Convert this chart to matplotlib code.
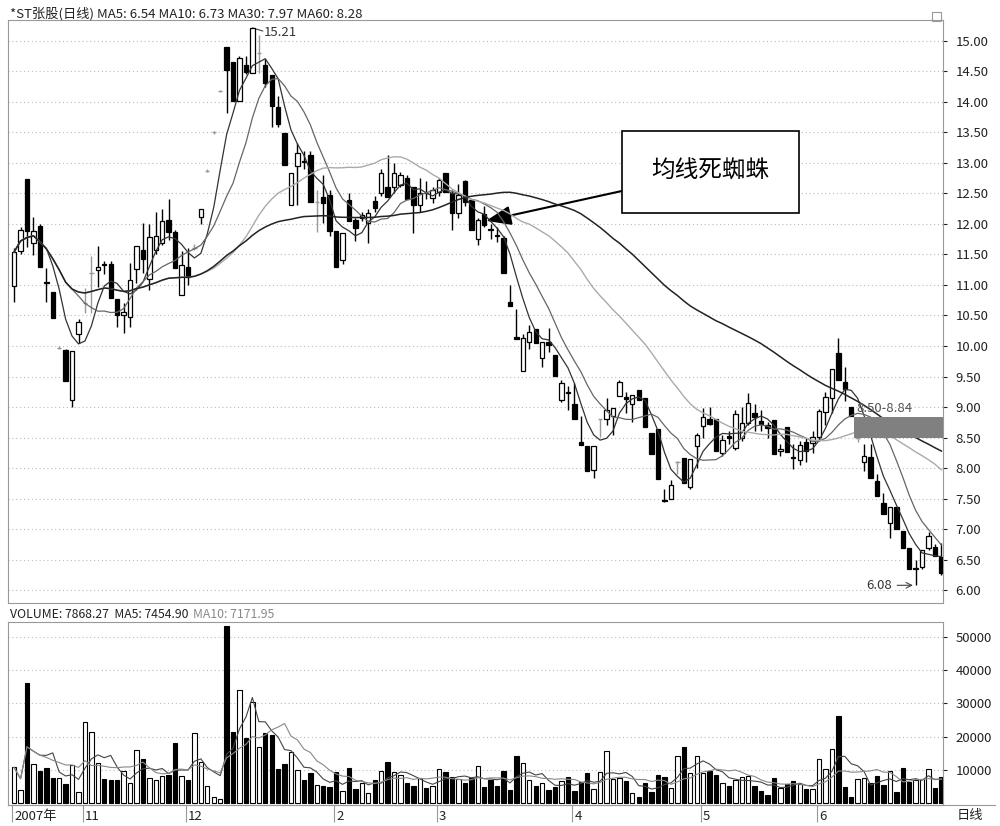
import matplotlib
matplotlib.use("Agg")
import matplotlib.pyplot as plt
import numpy as np
import pandas as pd
from matplotlib.patches import Rectangle

plt.rcParams['font.family'] = ['Noto Sans CJK SC', 'DejaVu Sans']

# day-by-day OHLC
opens = [10.98,11.55,12.74,11.69,11.97,11.05,10.89,9.97,9.93,9.11,10.20,10.70,11.20,11.25,11.34,11.34,10.77,10.51,10.48,11.26,
         11.57,11.10,11.57,11.69,12.07,11.87,10.84,11.30,11.60,12.11,12.87,13.50,14.18,14.90,14.66,14.02,14.61,14.48,14.80,14.61,
         14.44,13.92,13.49,12.31,12.95,13.03,13.13,12.36,12.44,12.48,11.89,11.41,12.39,12.07,12.10,12.02,12.38,12.51,12.61,12.61,
         12.64,12.75,12.61,12.31,12.51,12.43,12.52,12.84,12.51,12.18,12.70,12.39,11.75,12.16,11.92,11.82,11.77,10.72,10.15,9.59,
         10.07,10.28,9.80,10.07,9.85,9.11,9.25,9.05,8.43,8.36,7.97,8.80,8.80,8.85,9.18,9.16,9.05,9.28,9.15,8.57,
         8.64,7.48,7.49,8.10,8.16,7.69,8.36,8.69,8.80,8.80,8.25,8.53,8.33,8.49,8.74,8.90,8.77,8.70,8.79,8.28,
         8.67,8.18,8.13,8.43,8.41,8.51,8.92,9.15,9.89,9.41,9.00,8.50,8.10,8.18,7.79,7.43,7.10,7.36,6.97,6.69,
         6.34,6.38,6.69,6.70,6.54]
highs = [11.60,11.95,12.74,12.11,12.00,11.28,10.89,10.00,9.95,9.92,10.45,10.95,11.48,11.64,11.40,11.40,10.77,10.70,11.36,11.64,
         12.02,12.00,12.20,12.25,12.41,11.90,11.55,11.60,11.67,12.25,12.90,13.52,14.20,14.90,14.66,14.75,14.75,15.21,15.10,14.70,
         14.44,14.10,13.49,12.84,13.33,13.20,13.20,12.56,12.80,12.56,11.89,11.85,12.50,12.10,12.20,12.25,12.45,12.90,13.13,13.00,
         12.85,12.80,12.61,12.75,12.70,12.60,12.75,12.84,12.55,12.66,12.72,12.40,12.10,12.30,12.00,11.95,11.80,11.00,10.60,10.20,
         10.35,10.28,10.07,10.30,9.85,9.45,9.35,9.40,8.85,8.36,8.36,8.80,9.15,8.98,9.45,9.25,9.20,9.28,9.15,8.57,
         8.64,7.65,7.80,8.12,8.16,8.15,8.58,8.98,9.00,8.80,8.55,8.60,8.95,9.00,9.23,9.05,8.95,8.75,8.79,8.40,
         8.67,8.40,8.45,8.50,8.60,8.96,9.25,9.60,10.13,9.65,9.00,8.51,8.40,8.40,7.90,7.60,7.36,7.36,6.97,6.69,
         6.50,6.66,6.95,6.75,6.78]
lows = [10.72,11.50,11.62,11.49,11.30,10.72,10.46,9.95,9.43,9.00,10.05,10.54,10.54,10.97,11.18,10.79,10.31,10.21,10.31,11.03,
        11.20,10.92,11.50,11.65,11.74,11.28,10.84,11.00,11.57,12.00,12.85,13.48,14.16,13.82,14.02,14.02,14.45,14.48,14.48,14.25,
        13.59,13.59,12.97,12.31,12.31,12.90,12.36,11.87,12.02,11.80,11.30,11.35,12.05,11.72,12.05,11.68,12.20,12.45,12.44,12.50,
        12.60,12.41,11.85,12.20,12.40,12.35,12.45,12.52,11.90,12.10,12.30,11.90,11.65,11.95,11.75,11.70,11.20,10.66,10.11,9.59,
        9.95,10.05,9.65,9.90,9.51,9.08,8.95,8.80,8.38,7.95,7.84,8.51,8.70,8.55,9.18,8.90,8.75,9.11,8.67,8.23,
        7.82,7.45,7.49,7.90,7.75,7.65,8.00,8.50,8.70,8.28,8.20,8.40,8.30,8.45,8.70,8.60,8.60,8.50,8.23,8.20,
        8.26,7.98,8.05,8.10,8.25,8.45,8.70,8.90,9.44,9.10,8.85,8.42,7.95,7.84,7.54,7.25,6.85,7.00,6.69,6.34,
        6.08,6.35,6.65,6.56,6.25]
closes = [11.54,11.90,11.89,11.89,11.30,11.03,10.46,9.97,9.43,9.92,10.39,10.70,11.20,11.30,11.32,10.79,10.51,10.56,11.08,11.64,
          11.43,11.79,11.80,12.05,11.87,11.28,11.33,11.13,11.60,12.25,12.87,13.50,14.18,14.52,14.02,14.72,14.49,15.21,14.80,14.31,
          13.93,13.64,12.97,12.84,13.16,13.02,12.36,12.36,12.34,11.89,11.30,11.85,12.05,11.93,12.15,12.18,12.26,12.84,12.44,12.84,
          12.80,12.41,12.31,12.51,12.50,12.56,12.72,12.52,12.18,12.48,12.36,11.90,12.07,11.98,11.90,11.80,11.20,10.66,10.11,10.13,
          10.23,10.05,10.07,10.02,9.51,9.39,9.23,8.80,8.38,7.95,8.36,8.80,8.95,8.98,9.41,9.13,9.20,9.11,8.67,8.23,
          7.82,7.46,7.72,8.10,7.75,8.15,8.54,8.84,8.72,8.28,8.46,8.50,8.89,8.74,9.07,8.84,8.72,8.65,8.23,8.32,
          8.26,8.16,8.38,8.28,8.51,8.93,9.16,9.62,9.44,9.30,8.85,8.50,8.20,7.84,7.54,7.25,7.36,7.00,6.69,6.34,
          6.36,6.66,6.89,6.56,6.28]
volumes = [10700,3900,36200,11600,9600,10400,7600,7400,5700,11400,3400,24300,21500,11900,7100,6800,6800,9500,5900,16100,
           13300,7600,6800,8100,8500,18200,8100,6800,21200,12200,5000,1700,1100,53300,21500,34000,19500,30500,17000,21200,
           20500,10100,11600,15500,9900,6800,9100,5400,5000,4800,9200,3700,10400,4300,6000,2900,7000,9600,12400,9200,
           8500,6000,5100,7500,4500,5100,10100,9300,7900,7200,6100,7400,11000,4800,6800,5100,9600,3900,14100,12100,
           6900,5100,6100,3900,4700,6600,7900,3700,6400,9100,4200,9300,15700,7200,7400,6500,3100,1900,6100,3400,
           8400,7900,4400,14300,16800,9100,14100,9100,9500,8300,6100,5100,6900,7700,8100,5100,3700,2500,7600,4400,
           5600,6600,5700,4100,4200,13200,10100,16200,26100,4700,1900,7100,7400,5900,8100,5400,9500,3400,10400,6400,
           6900,7100,10300,4400,7900]
month_labels = ["2007年", "11", "12", "2", "3", "4", "5", "6"]
month_days = [0, 11, 27, 50, 66, 87, 107, 125]
ma_windows = [5, 10, 30, 60]
band_low, band_high = 8.50, 8.84

df = pd.DataFrame(dict(o=opens, h=highs, l=lows, c=closes, v=volumes))
n = len(df)
idx = np.arange(n)

W, H = 1000, 826
fig = plt.figure(figsize=(W/100, H/100), dpi=100)
fig.patch.set_facecolor('white')
axp = fig.add_axes([8/W, 1-603/H, 935/W, 583/H])
axv = fig.add_axes([8/W, 1-805/H, 935/W, 183/H])

for ax in (axp, axv):
    ax.set_xlim(-0.95, n - 0.75)
    ax.yaxis.tick_right()
    ax.tick_params(axis='y', length=3, labelsize=9.5, colors='#222', pad=6)
    ax.tick_params(axis='x', length=0)
    for s in ax.spines.values():
        s.set_color('#999')
    ax.set_facecolor('white')

# price panel
axp.set_ylim(5.79, 15.34)
yt = np.arange(6.0, 15.01, 0.5)
axp.set_yticks(yt)
axp.set_yticklabels([f"{v:.2f}" for v in yt])
for v in yt:
    axp.axhline(v, color='#bbb', lw=0.8, ls=(0, (1, 2.5)), zorder=0)
axp.set_xticks([])

bw = 0.68
for i, r in df.iterrows():
    up = r.c >= r.o
    doji = abs(r.c - r.o) < 0.005
    col = '#999' if doji else 'black'
    axp.vlines(i, r.l, r.h, color=col, lw=1, zorder=2)
    if doji:
        axp.hlines(r.c, i - bw/2, i + bw/2, color=col, lw=1, zorder=3)
    else:
        bot, top = min(r.o, r.c), max(r.o, r.c)
        axp.add_patch(Rectangle((i - bw/2, bot), bw, top - bot,
                                facecolor='white' if up else 'black', edgecolor='black', lw=0.9, zorder=3))

ma_styles = {5: ('#333', 0.9), 10: ('#666', 0.9), 30: ('#aaa', 1.0), 60: ('#222', 1.1)}
for w in ma_windows:
    m = df.c.rolling(w, min_periods=1).mean()
    c, lw = ma_styles[w]
    axp.plot(idx, m, color=c, lw=lw, zorder=4)

# band
b0 = 130.5
axp.add_patch(Rectangle((b0, band_low), n - 0.75 - b0, band_high - band_low, facecolor='#808080', edgecolor='none', zorder=5))
axp.text(b0 + 0.3, band_high + 0.03, f"{band_low:.2f}-{band_high:.2f}", fontsize=9.5, color='#555', va='bottom', zorder=6)

# high/low labels
ih = int(np.argmax(highs)); il = int(np.argmin(lows))
axp.plot([ih, ih + 1.6], [highs[ih], highs[ih] - 0.05], color='#444', lw=0.8)
axp.text(ih + 1.8, highs[ih] - 0.08, f"{highs[ih]:.2f}", fontsize=9.5, color='#333', va='center')
axp.annotate("", xy=(il, lows[il]), xytext=(il - 3.3, lows[il]),
             arrowprops=dict(arrowstyle='->', color='#444', lw=0.8))
axp.text(il - 3.6, lows[il], f"{lows[il]:.2f}", fontsize=9.5, color='#333', va='center', ha='right')

# callout
axp.annotate("均线死蜘蛛", xy=(73.3, 12.05), xytext=(0.751, 0.74), textcoords='axes fraction',
             fontsize=17, ha='center', va='center',
             bbox=dict(boxstyle='square,pad=1.25', fc='white', ec='black', lw=1.2),
             arrowprops=dict(arrowstyle='-|>,head_length=0.9,head_width=0.35', color='black', lw=1.5,
                             shrinkA=0, shrinkB=0))

fig.text(10/W, 1-14/H, "*ST张股(日线) MA5: 6.54 MA10: 6.73 MA30: 7.97 MA60: 8.28", fontsize=9.5, color='#222', va='center')
fig.text(10/W, 1-614/H, "VOLUME: 7868.27  MA5: 7454.90", fontsize=8.8, color='#222', va='center')
fig.text(193/W, 1-614/H, "MA10: 7171.95", fontsize=8.8, color='#888', va='center')

# volume panel
axv.set_ylim(-600, 54500)
vt = [10000, 20000, 30000, 40000, 50000]
axv.set_yticks(vt)
axv.set_yticklabels([str(v) for v in vt])
for v in vt:
    axv.axhline(v, color='#bbb', lw=0.8, ls=(0, (1, 2.5)), zorder=0)
upv = df.c >= df.o
axv.bar(idx, df.v, width=bw, color=np.where(upv, 'white', 'black'), edgecolor='black', lw=0.8, zorder=2)
axv.plot(idx, df.v.rolling(5, min_periods=1).mean(), color='#444', lw=0.8, zorder=3)
axv.plot(idx, df.v.rolling(10, min_periods=1).mean(), color='#888', lw=0.8, zorder=3)
axv.set_xticks([d - 0.3 for d in month_days])
axv.set_xticklabels([""] * len(month_days))
axv.tick_params(axis='x', length=12, direction='out', color='#999')
for d, lab in zip(month_days, month_labels):
    axv.text(d + 0.0, -0.03, lab, transform=axv.get_xaxis_transform(), fontsize=9.5, va='top', ha='left', color='#222')
fig.text(970/W, 1-816/H, "日线", fontsize=9.5, ha='center', va='center', color='#222')

fig.add_artist(plt.Line2D([8/W, 995/W], [1-805/H, 1-805/H], color='#999', lw=0.8))
fig.add_artist(Rectangle((932/W, 1-21/H), 9/W, 9/H, fill=False, ec='#999', lw=0.8, transform=fig.transFigure))

fig.savefig("out.png", dpi=100)
